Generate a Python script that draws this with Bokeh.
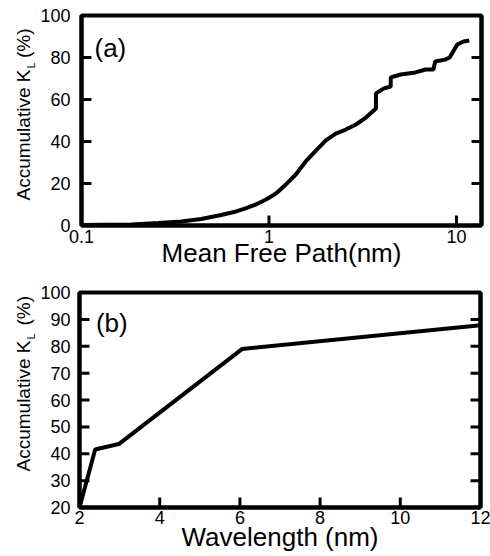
from math import pi, log10, nan
from bokeh.plotting import figure
from bokeh.models import FixedTicker, LinearAxis, Label, CustomJSTickFormatter
from bokeh.layouts import column, row
from bokeh.embed import file_html
from bokeh.resources import INLINE

# ---- panel (a): accumulative thermal conductivity vs mean free path ----
mfp_nm = [0.1, 0.185, 0.257, 0.341, 0.435, 0.556, 0.668, 0.757, 0.852, 0.964,
          1.09, 1.23, 1.39, 1.57, 1.78, 2.01, 2.27, 2.57, 2.91, 3.29,
          3.72, 3.72, 4.08, 4.46, 4.46, 5.04, 6.05, 6.84, 7.54, 7.7,
          8.7, 9.2, 10.1, 10.9, 11.7]
accum_a = [0.2, 0.5, 1.2, 1.9, 3.1, 5.0, 6.7, 8.3, 10.0, 12.4,
           15.2, 19.5, 24.3, 30.5, 35.7, 40.5, 43.8, 45.7, 48.1, 51.4,
           55.7, 62.9, 65.2, 66.2, 70.5, 71.9, 72.9, 74.3, 74.3, 78.1,
           79.0, 80.0, 86.2, 87.6, 88.1]

# ---- panel (b): accumulative thermal conductivity vs wavelength ----
wavelength_nm = [2, 2.39, 2.98, 6.06, 12]
accum_b = [20, 41.6, 43.6, 79.0, 87.8]

a_xrange = (0.1, 13.6)
a_yrange = (0, 100)
a_xticks = [0.1, 1, 10]
a_xlabels = ["0.1", "1", "10"]
a_yticks = [0, 20, 40, 60, 80, 100]

b_xrange = (2, 12)
b_yrange = (20, 100)
b_xticks = [2, 4, 6, 8, 10, 12]
b_yticks = [20, 30, 40, 50, 60, 70, 80, 90, 100]

FONT = "Liberation Sans"
TICK_FS = "18px"
XLAB_FS = "26px"
YLAB_FS = "19px"
LAB_W = 37
TICK_PX = 10


def style(p, xticks, yticks, xlabel, xlab_standoff, tick_standoff,
          ylab_standoff):
    p.grid.visible = False
    p.outline_line_color = "black"
    p.outline_line_width = 4

    xa = p.xaxis[0]
    xa.ticker = FixedTicker(ticks=xticks, minor_ticks=[])
    ya = p.yaxis[0]
    ya.ticker = FixedTicker(ticks=yticks, minor_ticks=[])
    ra = LinearAxis(ticker=FixedTicker(ticks=yticks, minor_ticks=[]),
                    formatter=CustomJSTickFormatter(code="return ''"))
    p.add_layout(ra, "right")
    for ax in (xa, ya, ra):
        ax.major_tick_in = 0
        ax.major_tick_out = 0
        ax.minor_tick_in = 0
        ax.minor_tick_out = 0
        ax.axis_line_width = 4
        ax.major_label_text_font = FONT
        ax.major_label_text_font_size = TICK_FS
        ax.major_label_text_color = "black"
    ra.major_label_standoff = 0

    xa.major_label_standoff = tick_standoff
    xa.axis_label = xlabel
    xa.axis_label_text_font = FONT
    xa.axis_label_text_font_size = XLAB_FS
    xa.axis_label_text_font_style = "normal"
    xa.axis_label_text_color = "black"
    xa.axis_label_standoff = xlab_standoff
    ya.major_label_standoff = ylab_standoff


def ticks(p, xr, yr, xticks, yticks, frame_w, frame_h, logx):
    """Inward tick marks: one line glyph broken by NaN gaps."""
    dy = TICK_PX * (yr[1] - yr[0]) / frame_h
    if logx:
        f = 10 ** (TICK_PX * log10(xr[1] / xr[0]) / frame_w)
        xl0, xl1 = xr[0], xr[0] * f
        xr0, xr1 = xr[1], xr[1] / f
    else:
        dx = TICK_PX * (xr[1] - xr[0]) / frame_w
        xl0, xl1 = xr[0], xr[0] + dx
        xr0, xr1 = xr[1], xr[1] - dx
    xs, ys = [], []
    for t in yticks:
        xs += [xl0, xl1, nan, xr0, xr1, nan]
        ys += [t, t, nan, t, t, nan]
    for t in xticks:
        xs += [t, t, nan]
        ys += [yr[0], yr[0] + dy, nan]
    p.line(xs, ys, line_color="black", line_width=3)


def label_strip(main, height, top, bottom, y_start, y_sub, y_end):
    """Narrow figure holding the rotated y-axis title (with subscript L)."""
    s = figure(width=LAB_W, height=height, x_range=(0, LAB_W),
               y_range=main.y_range, output_backend="svg",
               toolbar_location=None, min_border_left=0, min_border_right=0,
               min_border_top=top, min_border_bottom=bottom)
    s.axis.visible = False
    s.grid.visible = False
    s.outline_line_color = None
    kw = dict(angle=pi / 2, text_font=FONT, text_color="black",
              text_baseline="middle")
    s.add_layout(Label(x=23, y=y_start, text="Accumulative K",
                       text_align="left", text_font_size=YLAB_FS, **kw))
    s.add_layout(Label(x=30, y=y_sub, text="L",
                       text_align="left", text_font_size="11px", **kw))
    s.add_layout(Label(x=23, y=y_end, text="(%)",
                       text_align="right", text_font_size=YLAB_FS, **kw))
    return s


# ---------------- figure (a) ----------------
p1 = figure(width=490 - LAB_W, height=272, x_axis_type="log",
            x_range=a_xrange, y_range=a_yrange,
            output_backend="svg", toolbar_location=None,
            min_border_left=80 - LAB_W, min_border_right=9,
            min_border_top=15, min_border_bottom=47)
style(p1, a_xticks, a_yticks, "Mean Free Path(nm)", -8, 4, 11)
p1.xaxis[0].major_label_overrides = dict(zip(a_xticks, a_xlabels))
p1.line(mfp_nm, accum_a, line_color="black", line_width=4)
ticks(p1, a_xrange, a_yrange, a_xticks, a_yticks, 401, 210, True)
p1.add_layout(Label(x=0.1173, y=84.3, text="(a)", text_font=FONT,
                    text_font_size="26px", text_color="black",
                    text_baseline="middle", text_align="left"))
s1 = label_strip(p1, 272, 15, 47, 11.9, 74.8, 93.8)

# ---------------- figure (b) ----------------
p2 = figure(width=490 - LAB_W, height=284,
            x_range=b_xrange, y_range=b_yrange,
            output_backend="svg", toolbar_location=None,
            min_border_left=78 - LAB_W, min_border_right=10,
            min_border_top=20, min_border_bottom=49)
style(p2, b_xticks, b_yticks, "Wavelength (nm)", -5, 3, 9)
p2.line(wavelength_nm, accum_b, line_color="black", line_width=4)
ticks(p2, b_xrange, b_yrange, b_xticks, b_yticks, 402, 215, False)
p2.add_layout(Label(x=2.41, y=88.7, text="(b)", text_font=FONT,
                    text_font_size="26px", text_color="black",
                    text_baseline="middle", text_align="left"))
s2 = label_strip(p2, 284, 20, 49, 33.4, 82.5, 98.7)

layout = column(row(s1, p1, spacing=0), row(s2, p2, spacing=0), spacing=0)
open("out.html", "w").write(file_html(layout, INLINE))
